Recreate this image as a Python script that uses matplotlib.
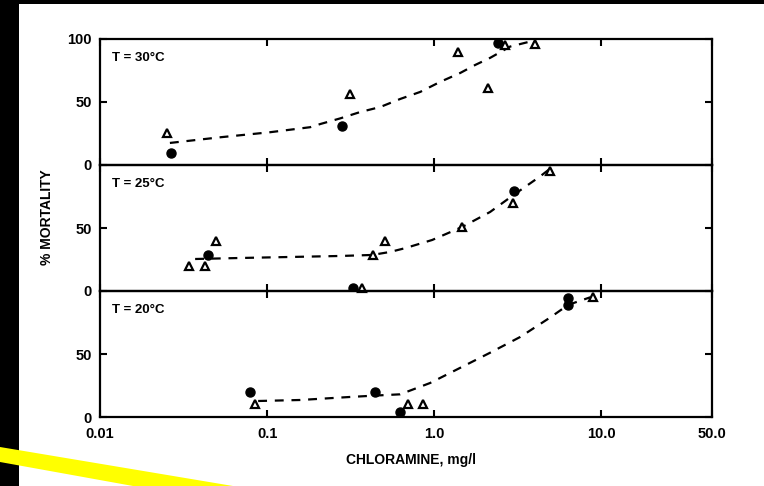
import matplotlib
matplotlib.use("Agg")
import matplotlib.pyplot as plt
from matplotlib.patches import Rectangle, Polygon

# --- data (x = chloramine mg/l, y = % mortality) ---
t30_tri_x = [0.0252, 0.314, 1.39, 2.11, 2.66, 4.03]
t30_tri_y = [25, 56, 90, 61, 95, 96]
t30_dot_x = [0.0266, 0.281, 2.42]
t30_dot_y = [9.5, 31, 97]
t30_fit_x = [0.0262, 0.0524, 0.104, 0.181, 0.208, 0.274, 0.360, 0.475, 0.626,
             0.825, 1.087, 1.43, 1.76, 2.16, 2.85, 3.76]
t30_fit_y = [17.5, 22, 26, 30, 32.5, 37, 42, 46, 52.4, 58, 66, 73, 79.4, 85, 94, 98]

t25_tri_x = [0.0341, 0.0425, 0.0495, 0.37, 0.431, 0.508, 1.47, 2.97, 4.95]
t25_tri_y = [19.8, 19.8, 39.7, 2, 28.6, 39.7, 50.8, 70, 95]
t25_dot_x = [0.0443, 0.327, 3.0]
t25_dot_y = [28.6, 2, 79.4]
t25_fit_x = [0.0371, 0.0689, 0.137, 0.274, 0.425, 0.545, 0.670, 0.973, 1.47, 2.16, 2.97, 4.31, 5.09]
t25_fit_y = [25.4, 26.2, 27, 27.8, 28.6, 31, 34, 40.5, 50.8, 62.7, 76, 91, 98.4]

t20_tri_x = [0.0847, 0.70, 0.86, 8.96]
t20_tri_y = [10.3, 10.3, 10.3, 95]
t20_dot_x = [0.079, 0.443, 0.626, 6.34, 6.34]
t20_dot_y = [19.8, 19.8, 4, 94.4, 89]
t20_fit_x = [0.0884, 0.158, 0.314, 0.443, 0.626, 0.946, 1.43, 2.16, 3.27, 4.95, 6.34, 8.59]
t20_fit_y = [12.7, 13.5, 15.9, 17, 18, 27, 39, 51, 63.5, 79, 89, 95]

panels = [
    ("T = 30°C", t30_tri_x, t30_tri_y, t30_dot_x, t30_dot_y, t30_fit_x, t30_fit_y, [0, 50, 100]),
    ("T = 25°C", t25_tri_x, t25_tri_y, t25_dot_x, t25_dot_y, t25_fit_x, t25_fit_y, [0, 50]),
    ("T = 20°C", t20_tri_x, t20_tri_y, t20_dot_x, t20_dot_y, t20_fit_x, t20_fit_y, [0, 50]),
]
x_ticks = [0.01, 0.1, 1, 10, 46]
x_labels = ["0.01", "0.1", "1.0", "10.0", "50.0"]

plt.rcParams['font.family'] = ['Liberation Sans', 'DejaVu Sans']
plt.rcParams['font.weight'] = 'bold'

W, H = 764, 486
fig = plt.figure(figsize=(W / 100, H / 100), dpi=100, facecolor='black')

# white page and yellow swoosh behind the chart
fig.patches.append(Rectangle((19 / W, 0), 1, 1 - 4 / H, transform=fig.transFigure,
                             facecolor='white', edgecolor='none', zorder=-5))
swoosh = [(0, 447), (233, 486), (133, 486), (0, 462)]
fig.patches.append(Polygon([(px / W, 1 - py / H) for px, py in swoosh], closed=True,
                           transform=fig.transFigure, facecolor='#ffff00',
                           edgecolor='none', zorder=-4))

left, right = 100 / W, 712 / W
top_px, ph = 39, 126
axes = []
for i, (lab, tx, ty, dx, dy, fx, fy, yt) in enumerate(panels):
    bottom = 1 - (top_px + ph * (i + 1)) / H
    ax = fig.add_axes([left, bottom, right - left, ph / H], zorder=2 + i)
    ax.set_facecolor('none')
    ax.set_xscale('log')
    ax.set_xlim(0.01, 46)
    ax.set_ylim(0, 100)

    ax.plot(fx, fy, color='black', linestyle=(0, (4, 3.5)), linewidth=1.6, zorder=2)
    ax.plot(dx, dy, 'o', color='black', markersize=6.5, zorder=3)
    ax.plot(tx, ty, '^', markerfacecolor='white', markeredgecolor='black',
            markersize=6, markeredgewidth=1.6, zorder=4, clip_on=False)

    ax.text(0.02, 0.85, lab, transform=ax.transAxes, fontsize=9.5,
            fontweight='bold', va='center', ha='left')

    for s in ax.spines.values():
        s.set_linewidth(1.6)
    ax.minorticks_off()
    ax.set_xticks(x_ticks)
    ax.set_yticks(yt)
    ax.tick_params(axis='x', which='major', direction='in', top=True, bottom=True,
                   length=5, width=1.5, pad=7, labelsize=10.5)
    ax.tick_params(axis='y', which='major', direction='in', left=True, right=True,
                   length=5, width=1.5, pad=6, labelsize=10.5)
    ax.set_yticklabels([str(v) for v in yt])
    if i < 2:
        ax.set_xticklabels([])
    else:
        ax.set_xticklabels(x_labels)
    axes.append(ax)

fig.text(411 / W, 1 - 460 / H, "CHLORAMINE, mg/l", ha='center', va='center',
         fontsize=10, fontweight='bold')
fig.text(47 / W, 1 - 217 / H, "% MORTALITY", ha='center', va='center',
         rotation=90, fontsize=10, fontweight='bold')

fig.savefig("out.png", dpi=100, facecolor=fig.get_facecolor())
